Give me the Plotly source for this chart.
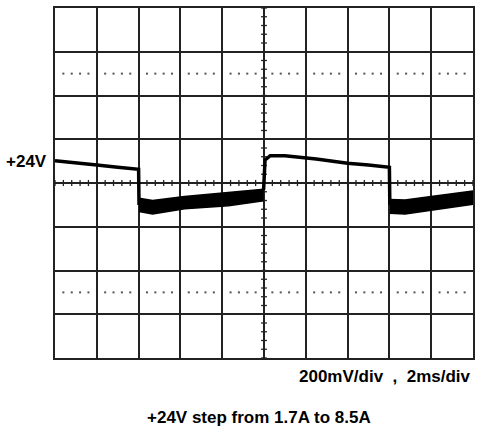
import plotly.graph_objects as go

# time in ms (2 ms/div), voltage deviation in mV (200 mV/div)
hi1_t = [0.0, 1.0, 2.0, 3.0, 3.95, 4.0, 4.02]
hi1_v = [102, 90, 82, 72, 63, 63, -100]

band1_t = [4.02, 4.67, 6.2, 8.3, 9.95]
band1_top = [-70, -80, -62, -44, -29]
band1_bot = [-130, -142, -118, -104, -82]

hi2_t = [9.98, 10.0, 10.05, 10.3, 11.0, 12.5, 14.0, 15.0, 15.95, 16.0, 16.02]
hi2_v = [-32, 60, 105, 125, 125, 110, 90, 82, 72, 72, -100]

band2_t = [16.02, 16.75, 18.0, 20.0]
band2_top = [-75, -78, -62, -37]
band2_bot = [-138, -142, -124, -97]

x_range = [0, 20]
y_range = [-800, 800]
x_div = 2
y_div = 200
dot_levels = [500, -500]

fig = go.Figure()

# dotted reference rows (at minor positions, skipping major grid lines)
dot_x = [x_range[0] + i * x_div / 5 for i in range(51) if i % 5 != 0]
for lvl in dot_levels:
    fig.add_trace(go.Scatter(x=dot_x, y=[lvl] * len(dot_x), mode="markers",
                             marker=dict(size=2, color="#555", symbol="square"),
                             hoverinfo="skip", showlegend=False))

# center axes with minor ticks
tick_h = 14  # mV half length
tick_w = 0.14  # ms half length
hx, hy = [], []
for i in range(51):
    t = x_range[0] + i * x_div / 5
    hx += [t, t, None]
    hy += [-tick_h, tick_h, None]
vx, vy = [], []
for i in range(41):
    v = y_range[0] + i * y_div / 5
    vx += [10 - tick_w, 10 + tick_w, None]
    vy += [v, v, None]
fig.add_trace(go.Scatter(x=hx + [0, 20], y=hy + [0, 0], mode="lines",
                         line=dict(color="#222", width=1.3), hoverinfo="skip", showlegend=False))
fig.add_trace(go.Scatter(x=vx + [10, 10], y=vy + [-800, 800], mode="lines",
                         line=dict(color="#222", width=1.3), hoverinfo="skip", showlegend=False))

# waveform
def band(t, top, bot):
    fig.add_trace(go.Scatter(x=t + t[::-1], y=top + bot[::-1], mode="lines",
                             fill="toself", fillcolor="black",
                             line=dict(color="black", width=1.5),
                             hoverinfo="skip", showlegend=False))

fig.add_trace(go.Scatter(x=hi1_t, y=hi1_v, mode="lines",
                         line=dict(color="black", width=3.5), showlegend=False))
band(band1_t, band1_top, band1_bot)
fig.add_trace(go.Scatter(x=hi2_t, y=hi2_v, mode="lines",
                         line=dict(color="black", width=3.5), showlegend=False))
band(band2_t, band2_top, band2_bot)

font = dict(family="Liberation Sans, Arial, sans-serif", size=17, color="black")
fig.add_annotation(text="<b>+24V</b>", xref="paper", x=-0.014, xanchor="right",
                   yref="y", y=97, yanchor="middle", showarrow=False, font=font)
fig.add_annotation(text="<b>200mV/div  ,  2ms/div</b>", xref="paper", x=1.0, xanchor="right",
                   yref="paper", y=-0.054, yanchor="middle", showarrow=False, font=font)
fig.add_annotation(text="<b>+24V step from 1.7A to 8.5A</b>", xref="paper", x=0.489, xanchor="center",
                   yref="paper", y=-0.169, yanchor="middle", showarrow=False, font=font)

axis_common = dict(showgrid=True, gridcolor="#222", gridwidth=1.5, zeroline=False,
                   showticklabels=False, ticks="", showline=True, linecolor="#222",
                   linewidth=1.5, mirror=True, fixedrange=True)
fig.update_xaxes(range=x_range, dtick=x_div, tick0=0, **axis_common)
fig.update_yaxes(range=y_range, dtick=y_div, tick0=0, **axis_common)

fig.update_layout(width=479, height=435, margin=dict(l=55, r=4, t=8, b=77),
                  plot_bgcolor="white", paper_bgcolor="white", showlegend=False)

fig.write_html("out.html", config={"displayModeBar": False},
               post_script="document.body.style.margin='0';document.body.style.padding='0';")
